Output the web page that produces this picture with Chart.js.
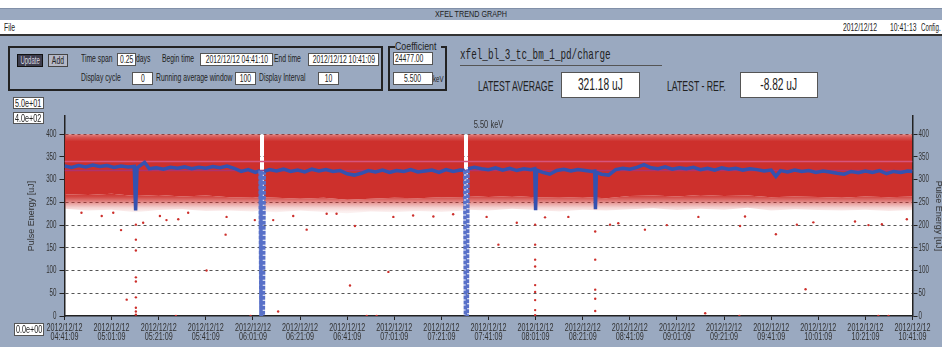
<!DOCTYPE html>
<html>
<head>
<meta charset="utf-8">
<script src="https://cdn.jsdelivr.net/npm/chart.js@4.4.0/dist/chart.umd.min.js"></script>
<style>
html, body { margin: 0; padding: 0; width: 942px; height: 347px; overflow: hidden; background: #9aa9c0; }
body { position: relative; font-family: "Liberation Sans", sans-serif; color: #222; }
.abs { position: absolute; white-space: nowrap; }
.lbl { font-size: 10px; line-height: 12px; }
.c { display: inline-block; transform: scaleX(0.68); transform-origin: 0 50%; }
.box { display: flex; align-items: center; justify-content: center; background: #fff; border: 1px solid #555; overflow: visible; }
.box .c { transform-origin: 50% 50%; }
.inp { font-size: 10px; height: 11px; }
#plot { position: absolute; left: 0; top: 100px; width: 960px; height: 247px; }
</style>
</head>
<body>
<div class="abs" style="left:0;top:0;width:942px;height:8px;background:#fff"></div>
<div class="abs" style="left:0;top:8px;width:942px;height:11px;background:#9aa9c0;border-top:1px solid #8190a8;border-bottom:1px solid #8190a8;text-align:center;font-size:9px;line-height:11px"><span class="c" style="transform:scaleX(0.8);transform-origin:50% 50%">XFEL TREND GRAPH</span></div>
<div class="abs" style="left:0;top:20px;width:942px;height:14px;background:#fff"></div>
<div class="abs lbl" style="left:4px;top:22px"><span class="c">File</span></div>
<div class="abs lbl" style="left:843px;top:22px"><span class="c">2012/12/12</span></div>
<div class="abs lbl" style="left:890px;top:22px"><span class="c">10:41:13</span></div>
<div class="abs lbl" style="left:921px;top:22px"><span class="c" style="transform:scaleX(0.62)">Config.</span></div>
<div class="abs" style="left:0;top:34px;width:942px;height:2px;background:#333"></div>

<div class="abs" style="left:8px;top:46px;width:371px;height:41px;border:2px solid #222"></div>
<div class="abs lbl" style="left:17px;top:54px;width:24px;height:11px;line-height:11px;background:#3d3d4d;color:#d8d8e0;border:1px solid #111;text-align:center;overflow:hidden"><span class="c" style="transform:scaleX(0.6);transform-origin:50% 50%;margin:0 -10px">Update</span></div>
<div class="abs lbl" style="left:48px;top:54px;width:18px;height:11px;line-height:11px;background:#b5b8c6;border:1px solid #444;text-align:center"><span class="c" style="transform-origin:50% 50%">Add</span></div>
<div class="abs lbl" style="left:81px;top:53px"><span class="c">Time span</span></div>
<div class="abs box inp" style="left:117px;top:53px;width:17px"><span class="c">0.25</span></div>
<div class="abs lbl" style="left:136px;top:53px"><span class="c">days</span></div>
<div class="abs lbl" style="left:162px;top:53px"><span class="c">Begin time</span></div>
<div class="abs box inp" style="left:200px;top:53px;width:71px"><span class="c">2012/12/12 04:41:10</span></div>
<div class="abs lbl" style="left:274px;top:53px"><span class="c">End time</span></div>
<div class="abs box inp" style="left:308px;top:53px;width:69px"><span class="c">2012/12/12 10:41:09</span></div>
<div class="abs lbl" style="left:81px;top:72px"><span class="c">Display cycle</span></div>
<div class="abs box inp" style="left:132px;top:72px;width:19px"><span class="c">0</span></div>
<div class="abs lbl" style="left:156px;top:72px"><span class="c">Running average window</span></div>
<div class="abs box inp" style="left:235px;top:72px;width:19px"><span class="c">100</span></div>
<div class="abs lbl" style="left:259px;top:72px"><span class="c">Display Interval</span></div>
<div class="abs box inp" style="left:318px;top:72px;width:19px"><span class="c">10</span></div>

<div class="abs" style="left:388px;top:46px;width:55px;height:41px;border:2px solid #222"></div>
<div class="abs" style="left:395px;top:40px;width:46px;background:#9aa9c0;font-size:11px;line-height:12px"><span class="c" style="transform:scaleX(0.8)">Coefficient</span></div>
<div class="abs box inp" style="left:393px;top:52px;width:38px;justify-content:flex-start"><span class="c" style="transform-origin:0 50%;margin-left:1px">24477.00</span></div>
<div class="abs box inp" style="left:393px;top:72px;width:38px"><span class="c">5.500</span></div>
<div class="abs" style="left:433px;top:73px;font-size:9px;line-height:12px"><span class="c">keV</span></div>

<div class="abs" style="left:460px;top:48px;font-family:'Liberation Mono',monospace;font-size:15px;line-height:16px"><span class="c" style="transform:scaleX(0.62)">xfel_bl_3_tc_bm_1_pd/charge</span></div>
<div class="abs" style="left:460px;top:65px;width:202px;height:1px;background:#555"></div>
<div class="abs" style="left:478px;top:77px;font-size:15px;line-height:18px"><span class="c" style="transform:scaleX(0.58)">LATEST AVERAGE</span></div>
<div class="abs box" style="left:561px;top:72px;width:77px;height:24px;font-size:17px"><span class="c" style="transform:scaleX(0.6)">321.18 uJ</span></div>
<div class="abs" style="left:667px;top:77px;font-size:15px;line-height:18px"><span class="c" style="transform:scaleX(0.58)">LATEST - REF.</span></div>
<div class="abs box" style="left:740px;top:72px;width:76px;height:24px;font-size:17px"><span class="c" style="transform:scaleX(0.6)">-8.82 uJ</span></div>

<div id="plot"><canvas id="trend" width="960" height="247"></canvas></div>

<div class="abs box inp" style="left:13px;top:97px;width:29px;height:10px"><span class="c" style="transform:scaleX(0.72)">5.0e+01</span></div>
<div class="abs box inp" style="left:13px;top:112px;width:29px;height:10px"><span class="c" style="transform:scaleX(0.72)">4.0e+02</span></div>
<div class="abs box inp" style="left:14px;top:323px;width:28px;height:11px"><span class="c" style="transform:scaleX(0.72)">0.0e+00</span></div>

<script>
// time axis in minutes after 2012/12/12 04:41:09
const dateLabel = '2012/12/12';
const tickMinutes = [0, 20, 40, 60, 80, 100, 120, 140, 160, 180, 200, 220, 240, 260, 280, 300, 320, 340, 360];
const timeLabels = ['04:41:09', '05:01:09', '05:21:09', '05:41:09', '06:01:09', '06:21:09', '06:41:09',
  '07:01:09', '07:21:09', '07:41:09', '08:01:09', '08:21:09', '08:41:09', '09:01:09', '09:21:09',
  '09:41:09', '10:01:09', '10:21:09', '10:41:09'];
const energyTicks = [0, 25, 50, 75, 100, 125, 150, 175, 200, 225, 250, 275, 300, 325, 350, 375, 400];

// shot-by-shot cloud, drawn as bands (null = beam off)
const bandTimes = [0, 10, 20, 30, 40, 50, 60, 70, 80, 83.0, 83.9, 84.7, 90, 100, 110, 120, 130, 140, 150, 160,
  169.6, 170.4, 171.3, 180, 190, 200, 210, 220, 230, 240, 250, 260, 270, 280, 290, 300, 310, 320, 330, 340, 350, 360];
const bandTop = [400, 400, 400, 400, 400, 400, 400, 400, 400, 400, null, 400, 400, 400, 400, 400, 400, 400, 400, 400,
  400, null, 400, 400, 400, 400, 400, 400, 400, 400, 400, 400, 400, 400, 400, 400, 400, 400, 400, 400, 400, 400];
const bandDenseLow = [268, 266, 269, 264, 266, 263, 265, 261, 260, 262, null, 261, 260, 258, 260, 256, 258, 260, 259, 261,
  260, null, 264, 262, 264, 261, 260, 262, 259, 264, 265, 263, 266, 264, 265, 261, 263, 262, 260, 263, 261, 263];
const bandSparseLow = [236, 232, 234, 228, 233, 235, 231, 232, 230, 232, null, 230, 228, 232, 229, 226, 230, 228, 231, 229,
  232, null, 234, 232, 236, 233, 230, 234, 232, 235, 237, 233, 236, 234, 238, 232, 235, 233, 232, 234, 231, 233];

// running average (window 100)
const avgTimes = [0, 3, 6, 9, 12, 15, 18, 21, 24, 27, 29.6, 30.2, 30.8, 34, 36, 39, 42, 45, 48, 51, 54, 57, 60,
  63, 66, 69, 72, 75, 78, 81, 83.0, 83.4, 84.4, 84.8, 87, 90, 93, 96, 99, 102, 105, 108, 111, 114, 117, 120,
  123, 126, 129, 132, 135, 138, 141, 144, 147, 150, 153, 156, 159, 162, 165, 168, 169.9, 170.2, 171.0, 171.3,
  174, 177, 180, 183, 186, 189, 192, 195, 198, 199.6, 200.0, 200.4, 203, 206, 209, 212, 215, 218, 221, 224,
  225.1, 225.4, 225.8, 228, 231, 234, 237, 240, 243, 246, 249, 252, 255, 258, 261, 264, 267, 270, 273, 276,
  279, 282, 285, 288, 291, 294, 297, 300, 302, 304, 307, 310, 313, 316, 319, 322, 325, 328, 331, 334, 337,
  340, 343, 346, 349, 352, 355, 358, 360];
const avgValues = [330, 327, 331, 328, 332, 329, 331, 327, 330, 328, 329, 232, 326, 338, 324, 326, 323, 327, 325, 328, 324, 327, 325,
  329, 326, 330, 325, 318, 322, 316, 320, 0, 0, 318, 322, 319, 323, 318, 321, 317, 323, 319, 322, 318, 320, 313,
  310, 314, 320, 317, 321, 316, 320, 318, 322, 317, 319, 321, 316, 322, 318, 321, 320, 0, 0, 324,
  327, 324, 322, 326, 321, 325, 320, 324, 322, 324, 233, 321, 316, 312, 320, 323, 319, 322, 320, 318,
  319, 235, 316, 312, 310, 322, 325, 323, 327, 333, 326, 324, 328, 323, 326, 324, 327, 322, 325, 321,
  326, 323, 325, 321, 324, 322, 319, 321, 307, 320, 317, 321, 318, 320, 316, 319, 317, 314, 312, 318, 315,
  319, 316, 320, 313, 318, 316, 319, 318];

const upperLevel = 340;
const meanLevel = 320;

// stray shots below the cloud
const strayTimes = [7.2, 15.8, 20.7, 24, 26.4, 33.4, 40.5, 43.3, 48.3, 52.5, 60.3, 68.4, 68.8, 80.8, 47.3, 79,
  88.6, 90.7, 97.1, 102.8, 111.3, 115.5, 123.3, 121.2, 137.5, 139.6, 148, 156.6, 165, 128.3, 132.5, 179.2,
  30.3, 30.3, 30.3, 30.3, 30.3, 30.3, 30.3, 30.3, 30.3,
  184.2, 192, 204, 213.9,
  199.8, 199.8, 199.8, 199.8, 199.8, 199.8, 199.8, 199.8, 199.8,
  225.3, 225.3, 225.3, 225.3, 225.3,
  231.6, 235.1, 246.4, 255.7, 269.1, 272, 286.8, 286.5, 288.9, 302, 310.9, 314.6, 317.9, 335.6, 341.3, 347,
  345.5, 349.8, 357.6];
const strayValues = [227, 220, 227, 189, 36, 205, 220, 211, 213, 227, 100, 179, 218, 211, 0, 0,
  211, 10, 220, 190, 225, 225, 198, 67, 97, 218, 221, 219, 224, 0, 0, 218,
  201, 168, 144, 85, 76, 41, 18, 10, 3,
  157, 205, 217, 218,
  201, 157, 124, 109, 68, 53, 35, 13, 2,
  186, 124, 58, 38, 11,
  201, 204, 190, 200, 218, 6, 198, 0, 219, 180, 201, 59, 206, 208, 200, 202,
  0, 0, 213];

const FONT = '"Liberation Sans", sans-serif';
const RED = 'rgb(205,48,44)';

function pts(xs, ys) {
  return xs.map((x, i) => ({ x: x, y: ys[i] }));
}

function cloudFill(stops) {
  return function (c) {
    const ch = c.chart;
    const y = ch.scales && ch.scales.y;
    if (!ch.chartArea || !y) return RED;
    const y0 = y.getPixelForValue(400), y1 = y.getPixelForValue(220);
    const g = ch.ctx.createLinearGradient(0, y0, 0, y1);
    stops.forEach(s => g.addColorStop((400 - s[0]) / 180, 'rgba(205,48,44,' + s[1] + ')'));
    return g;
  };
}

// narrow bitmap-like labels: squeeze text horizontally
function squeezed(ctx, text, x, y, sx, align) {
  ctx.save();
  ctx.translate(x, y);
  ctx.scale(sx, 1);
  ctx.textAlign = align;
  ctx.fillText(text, 0, 0);
  ctx.restore();
}

const plotDecor = {
  id: 'plotDecor',
  beforeDraw(chart) {
    const a = chart.chartArea, y = chart.scales.y, ctx = chart.ctx;
    ctx.save();
    ctx.fillStyle = '#fff';
    ctx.fillRect(a.left, y.getPixelForValue(400), a.right - a.left, a.bottom - y.getPixelForValue(400));
    ctx.restore();
  },
  afterDraw(chart) {
    const a = chart.chartArea, x = chart.scales.x, y = chart.scales.y, y2 = chart.scales.y2, ctx = chart.ctx;
    ctx.save();
    ctx.fillStyle = '#333';
    ctx.textBaseline = 'middle';
    ctx.font = '10px ' + FONT;
    squeezed(ctx, '5.50 keV', (a.left + a.right) / 2, y.getPixelForValue(400) - 9, 0.75, 'center');
    tickMinutes.forEach((m, i) => {
      const px = x.getPixelForValue(m);
      squeezed(ctx, dateLabel, px, x.top + 12, 0.72, 'center');
      squeezed(ctx, timeLabels[i], px, x.top + 21.5, 0.72, 'center');
    });
    energyTicks.filter(v => v % 50 === 0).forEach(v => {
      squeezed(ctx, String(v), a.left - 8, y.getPixelForValue(v), 0.62, 'right');
      squeezed(ctx, String(v), y2.left + 6, y2.getPixelForValue(v), 0.62, 'left');
    });
    ctx.restore();
  }
};

function energyAxis(pos, width, titlePad) {
  return {
    type: 'linear', position: pos, min: 0, max: 440,
    afterBuildTicks: s => { s.ticks = energyTicks.map(v => ({ value: v })); },
    afterFit: s => { s.width = width; },
    ticks: { font: { size: 9, family: FONT }, callback: () => '' },
    grid: {
      drawOnChartArea: pos === 'left',
      color: c => (c.tick && c.tick.value % 50 === 0 && c.tick.value > 0) ? '#555' : 'rgba(0,0,0,0)',
      tickColor: '#222', tickLength: 5
    },
    border: { color: '#222', width: 1.5, dash: [3, 3] },
    title: { display: true, text: 'Pulse Energy [uJ]', color: '#333', font: { size: 9, family: FONT },
      padding: { top: titlePad, bottom: 0 } }
  };
}

const dropSeg = c => (c.p0.parsed.y < 200 || c.p1.parsed.y < 200);

new Chart(document.getElementById('trend'), {
  type: 'line',
  data: {
    datasets: [
      { type: 'scatter', data: pts(strayTimes, strayValues), pointRadius: 1.2, pointBackgroundColor: RED,
        pointBorderWidth: 0, showLine: false },
      { data: pts(avgTimes, avgValues), borderColor: 'rgb(52,82,176)', borderWidth: 3.5, pointRadius: 0, fill: false,
        segment: {
          borderColor: c => dropSeg(c) ? 'rgb(88,112,200)' : undefined,
          borderDash: c => dropSeg(c) ? [4, 1] : undefined
        } },
      { data: pts([0, 360], [meanLevel, meanLevel]), borderColor: 'rgb(176,50,110)', borderWidth: 1.5, pointRadius: 0, fill: false },
      { data: pts([0, 360], [upperLevel, upperLevel]), borderColor: 'rgb(214,84,124)', borderWidth: 1.5, pointRadius: 0, fill: false },
      { data: pts(bandTimes, bandTop), borderWidth: 0, pointRadius: 0, fill: '+1',
        backgroundColor: cloudFill([[400, 0.6], [393, 0.82], [384, 1], [220, 1]]) },
      { data: pts(bandTimes, bandDenseLow), borderWidth: 0, pointRadius: 0, fill: '+1',
        backgroundColor: cloudFill([[400, 1], [270, 1], [262, 0.88], [254, 0.66], [246, 0.42], [238, 0.2], [230, 0.08], [220, 0.03]]) },
      { data: pts(bandTimes, bandSparseLow), borderWidth: 0, pointRadius: 0, fill: false }
    ]
  },
  options: {
    responsive: false,
    animation: false,
    layout: { padding: { top: 16, left: 0, right: 0, bottom: 0 } },
    plugins: { legend: { display: false }, tooltip: { enabled: false } },
    scales: {
      x: {
        type: 'linear', min: 0, max: 360,
        afterBuildTicks: s => { s.ticks = tickMinutes.map(v => ({ value: v })); },
        afterFit: s => { s.height = 31; },
        ticks: { autoSkip: false, maxRotation: 0, font: { size: 9, family: FONT }, callback: () => '' },
        grid: { drawOnChartArea: false, tickColor: '#222', tickLength: 4 },
        border: { color: '#222', width: 1.5 }
      },
      y: energyAxis('left', 64.5, 26),
      y2: energyAxis('right', 47.5, 16)
    }
  },
  plugins: [plotDecor]
});
</script>
</body>
</html>
